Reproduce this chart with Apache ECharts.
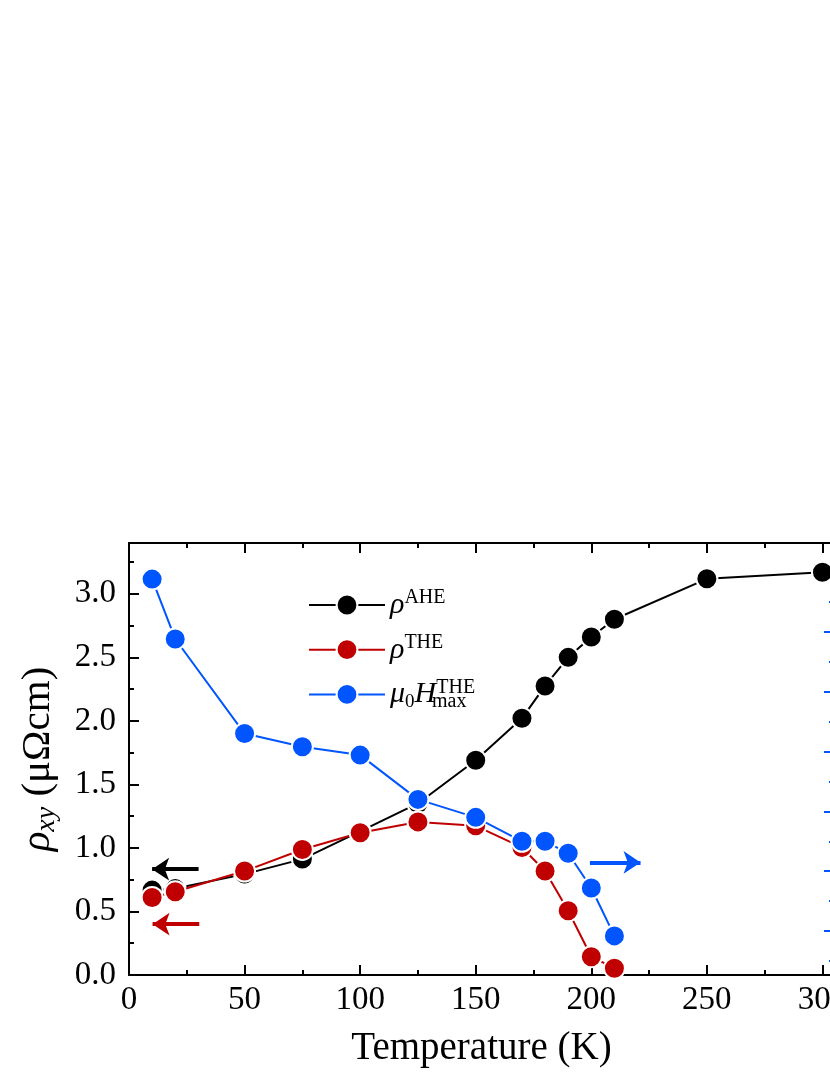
<!DOCTYPE html>
<html><head><meta charset="utf-8">
<script src="https://cdn.jsdelivr.net/npm/echarts@6/dist/echarts.min.js"></script>
<style>html,body{margin:0;padding:0;background:#fff}#c{width:830px;height:1075px}</style>
</head><body><div id="c"></div>
<script>
// ---- data ----
const tempAHE = [10, 20, 50, 75, 100, 125, 150, 170, 180, 190, 200, 210, 250, 300];
const rhoAHE  = [0.668, 0.68, 0.794, 0.912, 1.13, 1.35, 1.69, 2.02, 2.275, 2.50, 2.66, 2.80, 3.118, 3.17];
const tempTHE = [10, 20, 50, 75, 100, 125, 150, 170, 180, 190, 200, 210];
const rhoTHE  = [0.61, 0.655, 0.818, 0.988, 1.12, 1.205, 1.174, 1.004, 0.818, 0.506, 0.144, 0.053];
const muHmax  = [3.44, 2.94, 2.15, 2.04, 1.97, 1.60, 1.45, 1.25, 1.25, 1.15, 0.86, 0.46];
const xTicks  = [0, 50, 100, 150, 200, 250, 300];
const xMinor  = [25, 75, 125, 175, 225, 275];
const yTicks  = [0, 0.5, 1.0, 1.5, 2.0, 2.5, 3.0];
const yMinor  = [0.25, 0.75, 1.25, 1.75, 2.25, 2.75, 3.25];
const rTicks  = [0.5, 1.0, 1.5, 2.0, 2.5, 3.0, 3.5];
const rMinor  = [0.25, 0.75, 1.25, 1.75, 2.25, 2.75, 3.25];
// arrows: [x from, x to, y] in left-axis units
const arrowBlack = [30.1, 10.0, 0.833];
const arrowRed   = [30.4, 10.2, 0.40];
const arrowBlue  = [199.4, 221.3, 0.886];

const FONT = "'Liberation Serif','Times New Roman',serif";
const BLACK = '#000000', RED = '#c00000', BLUE = '#0055ff';

const chart = echarts.init(document.getElementById('c'), null, {renderer: 'canvas'});

function xAx(pos, ticks, len, labels, withLine) {
  return {
    type: 'value', position: pos, min: 0, max: 305,
    axisLine: {show: withLine, onZero: false, lineStyle: {color: BLACK, width: 2}},
    axisTick: {show: true, inside: true, length: len, customValues: ticks, lineStyle: {color: BLACK, width: 2}},
    axisLabel: labels ? {show: true, customValues: ticks, fontFamily: FONT, fontSize: 33, color: BLACK, margin: 9,
      formatter: v => String(v)} : {show: false},
    splitLine: {show: false}
  };
}
function yAx(pos, min, max, ticks, len, color, labels, withLine) {
  return {
    type: 'value', position: pos, min: min, max: max,
    axisLine: {show: withLine, onZero: false, lineStyle: {color: BLACK, width: 2}},
    axisTick: {show: true, inside: true, length: len, customValues: ticks, lineStyle: {color: color, width: 2}},
    axisLabel: labels ? {show: true, customValues: ticks, fontFamily: FONT, fontSize: 33, color: BLACK, margin: 13,
      formatter: v => v.toFixed(1)} : {show: false},
    splitLine: {show: false}
  };
}

const xAxes = [
  xAx('bottom', xTicks, 10, true, true),
  xAx('bottom', xMinor, 5, false, false),
  xAx('top', xTicks, 10, false, true),
  xAx('top', xMinor, 5, false, false)
];
xAxes[0].name = 'Temperature (K)';
xAxes[0].nameLocation = 'middle';
xAxes[0].nameGap = 54;
xAxes[0].nameTextStyle = {fontFamily: FONT, fontSize: 39, color: BLACK};

const yAxes = [
  yAx('left', 0, 3.4, yTicks, 10, BLACK, true, true),
  yAx('left', 0, 3.4, yMinor, 5, BLACK, false, false),
  yAx('right', 0.1333, 3.7417, rTicks, 10, BLUE, false, true),
  yAx('right', 0.1333, 3.7417, rMinor, 5, BLUE, false, false)
];
yAxes[0].name = '{r|ρ}{s|xy}{n| (μΩcm)}';
yAxes[0].nameLocation = 'middle';
yAxes[0].nameGap = 68;
yAxes[0].nameTextStyle = {
  color: BLACK,
  rich: {
    r: {fontFamily: FONT, fontStyle: 'italic', fontSize: 41, lineHeight: 46},
    s: {fontFamily: FONT, fontStyle: 'italic', fontSize: 28, lineHeight: 34, verticalAlign: 'bottom'},
    n: {fontFamily: FONT, fontSize: 41, lineHeight: 46}
  }
};

const pairs = (xs, ys) => xs.map((x, i) => [x, ys[i]]);
const mk = {symbol: 'circle', symbolSize: 21};

function arrow(a, color) {
  return [{coord: [a[0], a[2]], lineStyle: {color: color, width: 4, type: 'solid'}, itemStyle: {color: color}},
          {coord: [a[1], a[2]]}];
}

const option = {
  animation: false,
  backgroundColor: '#ffffff',
  grid: {left: 129, top: 543, width: 705, height: 432, containLabel: false, outerBoundsMode: 'none'},
  xAxis: xAxes,
  yAxis: yAxes,
  legend: {
    orient: 'vertical', left: 303, top: 583, itemWidth: 76, itemHeight: 26, itemGap: 12.7,
    selectedMode: false,
    data: ['AHE', 'THE', 'Hmax'],
    formatter: function (n) {
      if (n === 'AHE') return '{r|ρ}{u|AHE}';
      if (n === 'THE') return '{r|ρ}{u|THE}';
      return '{r|μ}{d|0}{r|H}{u|THE}';
    },
    textStyle: {
      color: BLACK,
      rich: {
        r: {fontFamily: FONT, fontStyle: 'italic', fontSize: 30, lineHeight: 34, color: BLACK},
        u: {fontFamily: FONT, fontSize: 20, lineHeight: 15, verticalAlign: 'top', color: BLACK},
        d: {fontFamily: FONT, fontSize: 19, lineHeight: 26, verticalAlign: 'bottom', color: BLACK}
      }
    }
  },
  graphic: [{
    type: 'text', left: 432, top: 692, silent: true,
    style: {text: 'max', fontFamily: FONT, fontSize: 20, fill: BLACK}
  }],
  series: [
    Object.assign({
      name: 'AHE', type: 'line', xAxisIndex: 0, yAxisIndex: 0, data: pairs(tempAHE, rhoAHE),
      lineStyle: {color: BLACK, width: 2}, itemStyle: {color: BLACK, borderColor: '#fff', borderWidth: 2},
      z: 2,
      markLine: {
        silent: true, symbol: ['none', 'arrow'], symbolSize: 17, label: {show: false},
        emphasis: {disabled: true},
        data: [arrow(arrowBlack, BLACK), arrow(arrowRed, RED), arrow(arrowBlue, BLUE)]
      }
    }, mk),
    Object.assign({
      name: 'THE', type: 'line', xAxisIndex: 0, yAxisIndex: 0, data: pairs(tempTHE, rhoTHE),
      lineStyle: {color: RED, width: 2}, itemStyle: {color: RED, borderColor: '#fff', borderWidth: 2}, z: 3
    }, mk),
    Object.assign({
      name: 'Hmax', type: 'line', xAxisIndex: 0, yAxisIndex: 2, data: pairs(tempTHE, muHmax),
      lineStyle: {color: BLUE, width: 2}, itemStyle: {color: BLUE, borderColor: '#fff', borderWidth: 2}, z: 4
    }, mk)
  ]
};
chart.setOption(option);
</script></body></html>
